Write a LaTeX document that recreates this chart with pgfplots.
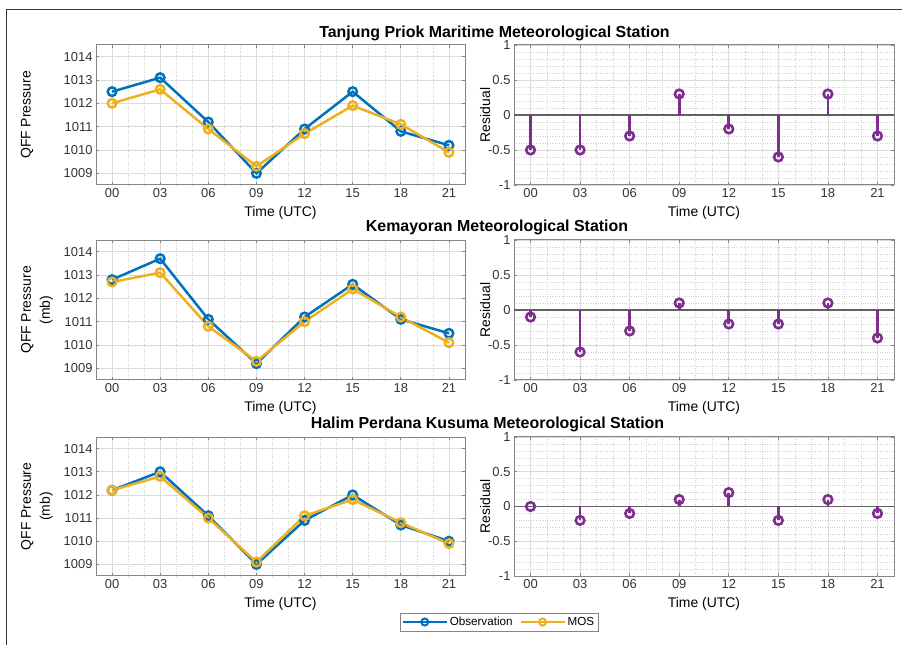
\documentclass[border=0pt]{standalone}
\usepackage{pgfplots}
\pgfplotsset{compat=1.18}
\usepackage{fontspec}
\setmainfont{Liberation Sans}
\definecolor{obs}{HTML}{0072BD}
\definecolor{mos}{HTML}{EDB120}
\definecolor{res}{HTML}{7E2F8E}
\definecolor{axgray}{HTML}{858585}
\definecolor{txtgray}{HTML}{333333}

\pgfplotsset{
  base/.style={
    scale only axis,
    xmin=-1, xmax=22,
    xtick={0,3,...,21},
    xticklabels={00,03,06,09,12,15,18,21},
    minor x tick num=2,
    grid=both,
    major grid style={color=black!14, line width=0.7bp},
    minor grid style={color=black!18, dotted, line width=0.5bp},
    axis line style={axgray, line width=1bp},
    tick style={axgray, line width=0.7bp},
    major tick length=3bp, minor tick length=0pt,
    tick align=inside,
    ticklabel style={font=\fontsize{13}{15}\selectfont, text=txtgray},
    /pgf/number format/assume math mode=true,
    /pgf/number format/1000 sep={},
    xlabel={Time (UTC)},
    xlabel style={at={(axis description cs:0.5,-0.2)}, anchor=center, inner sep=0pt, font=\fontsize{14}{16}\selectfont},
    ylabel style={font=\fontsize{14}{19}\selectfont, align=center, anchor=center, inner sep=0pt},
  },
  leftax/.style={base, width=369bp, height=140bp,
    ymin=1008.5, ymax=1014.5, ytick={1009,1010,...,1014}, minor y tick num=4},
  rightax/.style={base, width=380bp, height=140bp,
    ymin=-1, ymax=1, ytick={-1,-0.5,0,0.5,1}, minor y tick num=4,
    ylabel={Residual},
    ylabel style={at={(axis description cs:-0.076,0.5)}},
    yticklabel style={/pgf/number format/fixed}},
  obsl/.style={obs, line width=2.5bp, mark=o, mark size=4.3bp, mark options={solid}},
  mosl/.style={mos, line width=2.5bp, mark=o, mark size=4.3bp, mark options={solid}},
  stem/.style={res, line width=2.6bp, ycomb, mark=o, mark size=4.3bp, mark options={solid}},
  zline/.style={black!62, line width=1.3bp, forget plot},
}

\begin{document}
\begin{tikzpicture}
\useasboundingbox (0,0) rectangle (902bp,645bp);
\draw[black!80, line width=1bp] (6bp,0) -- (6bp,635bp) -- (902bp,635bp);

% ---------- Row 1 ----------
\begin{axis}[leftax, at={(96bp,460bp)}, anchor=south west,
  ylabel={QFF Pressure}, ylabel style={at={(axis description cs:-0.187,0.5)}}]
\addplot[obsl] coordinates {(0,1012.5)(3,1013.1)(6,1011.2)(9,1009.0)(12,1010.9)(15,1012.5)(18,1010.8)(21,1010.2)};
\addplot[mosl] coordinates {(0,1012.0)(3,1012.6)(6,1010.9)(9,1009.3)(12,1010.7)(15,1011.9)(18,1011.1)(21,1009.9)};
\end{axis}
\begin{axis}[rightax, at={(514bp,460bp)}, anchor=south west]
\addplot[zline] coordinates {(-1,0)(22,0)};
\addplot[stem] coordinates {(0,-0.5)(3,-0.5)(6,-0.3)(9,0.3)(12,-0.2)(15,-0.6)(18,0.3)(21,-0.3)};
\end{axis}
\node[font=\fontsize{16}{18}\selectfont\bfseries] at (494.5bp,612bp) {Tanjung Priok Maritime Meteorological Station};

% ---------- Row 2 ----------
\begin{axis}[leftax, at={(96bp,265bp)}, anchor=south west,
  ylabel={QFF Pressure\\(mb)}, ylabel style={at={(axis description cs:-0.16,0.5)}}]
\addplot[obsl] coordinates {(0,1012.8)(3,1013.7)(6,1011.1)(9,1009.2)(12,1011.2)(15,1012.6)(18,1011.1)(21,1010.5)};
\addplot[mosl] coordinates {(0,1012.7)(3,1013.1)(6,1010.8)(9,1009.3)(12,1011.0)(15,1012.4)(18,1011.2)(21,1010.1)};
\end{axis}
\begin{axis}[rightax, at={(514bp,265bp)}, anchor=south west]
\addplot[zline] coordinates {(-1,0)(22,0)};
\addplot[stem] coordinates {(0,-0.1)(3,-0.6)(6,-0.3)(9,0.1)(12,-0.2)(15,-0.2)(18,0.1)(21,-0.4)};
\end{axis}
\node[font=\fontsize{16}{18}\selectfont\bfseries] at (497bp,418bp) {Kemayoran Meteorological Station};

% ---------- Row 3 ----------
\begin{axis}[leftax, height=139bp, at={(96bp,69bp)}, anchor=south west,
  ylabel={QFF Pressure\\(mb)}, ylabel style={at={(axis description cs:-0.16,0.5)}},
  legend columns=2,
  legend style={at={(axis description cs:1.092,-0.331)}, anchor=center, draw=axgray,
    font=\fontsize{11.7}{13}\selectfont, inner sep=2bp,
    /tikz/every even column/.append style={column sep=5bp}},
  legend image code/.code={\draw[#1, line width=2bp, mark size=3.5bp, mark repeat=2, mark phase=2] plot coordinates {(0bp,0bp)(22bp,0bp)(44bp,0bp)};}]
\addplot[obsl] coordinates {(0,1012.2)(3,1013.0)(6,1011.1)(9,1009.0)(12,1010.9)(15,1012.0)(18,1010.7)(21,1010.0)};
\addplot[mosl] coordinates {(0,1012.2)(3,1012.8)(6,1011.0)(9,1009.1)(12,1011.1)(15,1011.8)(18,1010.8)(21,1009.9)};
\legend{Observation, MOS}
\end{axis}
\begin{axis}[rightax, height=139bp, at={(514bp,69bp)}, anchor=south west]
\addplot[zline] coordinates {(-1,0)(22,0)};
\addplot[stem] coordinates {(0,0.0)(3,-0.2)(6,-0.1)(9,0.1)(12,0.2)(15,-0.2)(18,0.1)(21,-0.1)};
\end{axis}
\node[font=\fontsize{16}{18}\selectfont\bfseries] at (487.5bp,221bp) {Halim Perdana Kusuma Meteorological Station};
\end{tikzpicture}
\end{document}
